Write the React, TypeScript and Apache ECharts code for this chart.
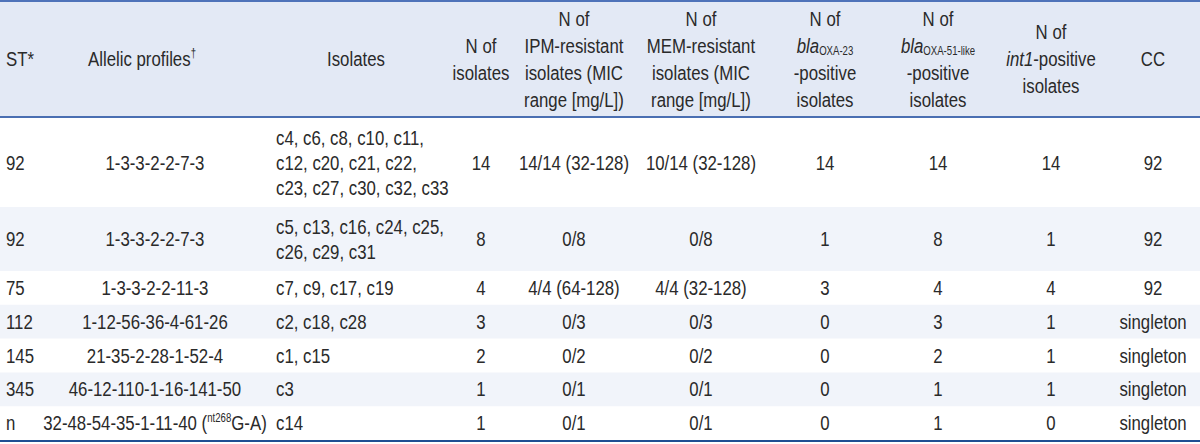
import React, { useEffect, useRef } from 'react';
import * as echarts from 'echarts';

// ---------- Data ----------
const headerLabels: string[][] = [
  ['ST*'],
  ['Allelic profiles^†^'],
  ['Isolates'],
  ['N of', 'isolates'],
  ['N of', 'IPM-resistant', 'isolates (MIC', 'range [mg/L])'],
  ['N of', 'MEM-resistant', 'isolates (MIC', 'range [mg/L])'],
  ['N of', '*bla*_OXA-23_', '-positive', 'isolates'],
  ['N of', '*bla*_OXA-51-like_', '-positive', 'isolates'],
  ['N of', '*int1*-positive', 'isolates'],
  ['CC'],
];
const stValues = ['92', '92', '75', '112', '145', '345', 'n'];
const allelicProfiles = [
  '1-3-3-2-2-7-3',
  '1-3-3-2-2-7-3',
  '1-3-3-2-2-11-3',
  '1-12-56-36-4-61-26',
  '21-35-2-28-1-52-4',
  '46-12-110-1-16-141-50',
  '32-48-54-35-1-11-40 (^nt268^G-A)',
];
const isolateLists = [
  ['c4, c6, c8, c10, c11,', 'c12, c20, c21, c22,', 'c23, c27, c30, c32, c33'],
  ['c5, c13, c16, c24, c25,', 'c26, c29, c31'],
  ['c7, c9, c17, c19'],
  ['c2, c18, c28'],
  ['c1, c15'],
  ['c3'],
  ['c14'],
];
const nIsolates = [14, 8, 4, 3, 2, 1, 1];
const ipmResistant = ['14/14 (32-128)', '0/8', '4/4 (64-128)', '0/3', '0/2', '0/1', '0/1'];
const memResistant = ['10/14 (32-128)', '0/8', '4/4 (32-128)', '0/3', '0/2', '0/1', '0/1'];
const oxa23Positive = [14, 1, 3, 0, 0, 0, 0];
const oxa51Positive = [14, 8, 4, 3, 2, 1, 1];
const int1Positive = [14, 1, 4, 1, 1, 1, 0];
const clonalComplex = ['92', '92', '92', 'singleton', 'singleton', 'singleton', 'singleton'];

// ---------- Layout / style ----------
const FONT = "'Liberation Sans', Arial, sans-serif";
const SQUEEZE = 0.8; // horizontal scale to mimic a condensed face
const FS = 21;
const SMALL = 12;
const TEXT_COLOR = '#2a2a2a';
const HEADER_BG = '#e3e9f5';
const ALT_BG = '#f1f4fa';
const TOP_LINE = '#4f73b9';
const MID_LINE = '#4a6fb2';
const BOTTOM_LINE = '#1f4f93';

type Align = 'left' | 'center';
const COLS: { hx: number; ha: Align; dx: number; da: Align }[] = [
  { hx: 6, ha: 'left', dx: 6, da: 'left' },
  { hx: 142, ha: 'center', dx: 155, da: 'center' },
  { hx: 356, ha: 'center', dx: 276, da: 'left' },
  { hx: 481, ha: 'center', dx: 481, da: 'center' },
  { hx: 574, ha: 'center', dx: 574, da: 'center' },
  { hx: 701, ha: 'center', dx: 701, da: 'center' },
  { hx: 825, ha: 'center', dx: 825, da: 'center' },
  { hx: 938, ha: 'center', dx: 938, da: 'center' },
  { hx: 1051, ha: 'center', dx: 1051, da: 'center' },
  { hx: 1153, ha: 'center', dx: 1153, da: 'center' },
];
const HEADER_TOP = 2;
const HEADER_BOTTOM = 116;
const HEADER_LH = 27;
const ROW_LH = 25;

type Seg = { t: string; k: 'n' | 'i' | 'sub' | 'sup' };
function parse(s: string): Seg[] {
  const parts = s.split(/(\^[^^]+\^|_[^_]+_|\*[^*]+\*)/).filter((p) => p.length > 0);
  return parts.map((p) => {
    if (p.startsWith('^')) return { t: p.slice(1, -1), k: 'sup' };
    if (p.startsWith('_') && p.length > 2) return { t: p.slice(1, -1), k: 'sub' };
    if (p.startsWith('*') && p.length > 2) return { t: p.slice(1, -1), k: 'i' };
    return { t: p, k: 'n' };
  });
}

let ctx: CanvasRenderingContext2D | null = null;
function fontOf(k: Seg['k']) {
  const size = k === 'sub' || k === 'sup' ? SMALL : FS;
  const style = k === 'i' ? 'italic' : 'normal';
  return { size, style };
}
function measure(seg: Seg) {
  if (!ctx) ctx = document.createElement('canvas').getContext('2d');
  const { size, style } = fontOf(seg.k);
  ctx!.font = `${style} normal ${size}px ${FONT}`;
  return ctx!.measureText(seg.t).width * SQUEEZE;
}

function pushLine(els: any[], text: string, x: number, align: Align, y: number) {
  const segs = parse(text);
  const widths = segs.map(measure);
  const total = widths.reduce((a, b) => a + b, 0);
  let cur = align === 'center' ? x - total / 2 : x;
  segs.forEach((s, i) => {
    const { size, style } = fontOf(s.k);
    const off = s.k === 'sub' ? 5 : s.k === 'sup' ? -6 : 0;
    els.push({
      type: 'text',
      x: cur,
      y: y + off,
      scaleX: SQUEEZE,
      z: 10,
      silent: true,
      style: {
        text: s.t,
        fill: TEXT_COLOR,
        fontSize: size,
        fontFamily: FONT,
        fontStyle: style,
        align: 'left',
        verticalAlign: 'middle',
      },
    });
    cur += widths[i];
  });
}

function buildElements() {
  const els: any[] = [];
  const W = 1200;
  els.push({
    type: 'rect', z: 0, silent: true,
    shape: { x: 0, y: HEADER_TOP, width: W, height: HEADER_BOTTOM - HEADER_TOP },
    style: { fill: HEADER_BG },
  });
  const hc = (HEADER_TOP + HEADER_BOTTOM) / 2;
  headerLabels.forEach((lines, c) => {
    const n = lines.length;
    lines.forEach((ln, j) => {
      const y = hc + (j - (n - 1) / 2) * HEADER_LH;
      pushLine(els, ln, COLS[c].hx, COLS[c].ha, y);
    });
  });
  const rowCells = stValues.map((_, i) => [
    [stValues[i]],
    [allelicProfiles[i]],
    isolateLists[i],
    [String(nIsolates[i])],
    [ipmResistant[i]],
    [memResistant[i]],
    [String(oxa23Positive[i])],
    [String(oxa51Positive[i])],
    [String(int1Positive[i])],
    [clonalComplex[i]],
  ]);
  let top = HEADER_BOTTOM + 2;
  rowCells.forEach((cells, i) => {
    const nLines = isolateLists[i].length;
    const h = nLines === 1 ? 33.8 : ROW_LH * nLines + 14;
    if (i % 2 === 1) {
      els.push({
        type: 'rect', z: 0, silent: true,
        shape: { x: 0, y: top, width: W, height: h },
        style: { fill: ALT_BG },
      });
    }
    const cy = top + h / 2;
    cells.forEach((lines, c) => {
      const n = lines.length;
      lines.forEach((ln, j) => {
        const y = cy + (j - (n - 1) / 2) * ROW_LH;
        pushLine(els, ln, COLS[c].dx, COLS[c].da, y);
      });
    });
    top += h;
  });
  const bottom = top;
  els.push({ type: 'line', z: 5, silent: true, shape: { x1: 0, y1: 1, x2: W, y2: 1 }, style: { stroke: TOP_LINE, lineWidth: 2 } });
  els.push({ type: 'line', z: 5, silent: true, shape: { x1: 0, y1: HEADER_BOTTOM + 1, x2: W, y2: HEADER_BOTTOM + 1 }, style: { stroke: MID_LINE, lineWidth: 2 } });
  els.push({ type: 'line', z: 5, silent: true, shape: { x1: 0, y1: bottom + 1, x2: W, y2: bottom + 1 }, style: { stroke: BOTTOM_LINE, lineWidth: 2 } });
  return els;
}

export default function App() {
  const ref = useRef<HTMLDivElement>(null);
  useEffect(() => {
    document.body.style.margin = '0';
    if (!ref.current) return;
    const chart = echarts.init(ref.current, undefined, { renderer: 'svg' });
    chart.setOption({
      animation: false,
      backgroundColor: '#ffffff',
      graphic: { elements: buildElements() },
    });
    return () => chart.dispose();
  }, []);
  return <div ref={ref} style={{ width: 1200, height: 444 }} />;
}
